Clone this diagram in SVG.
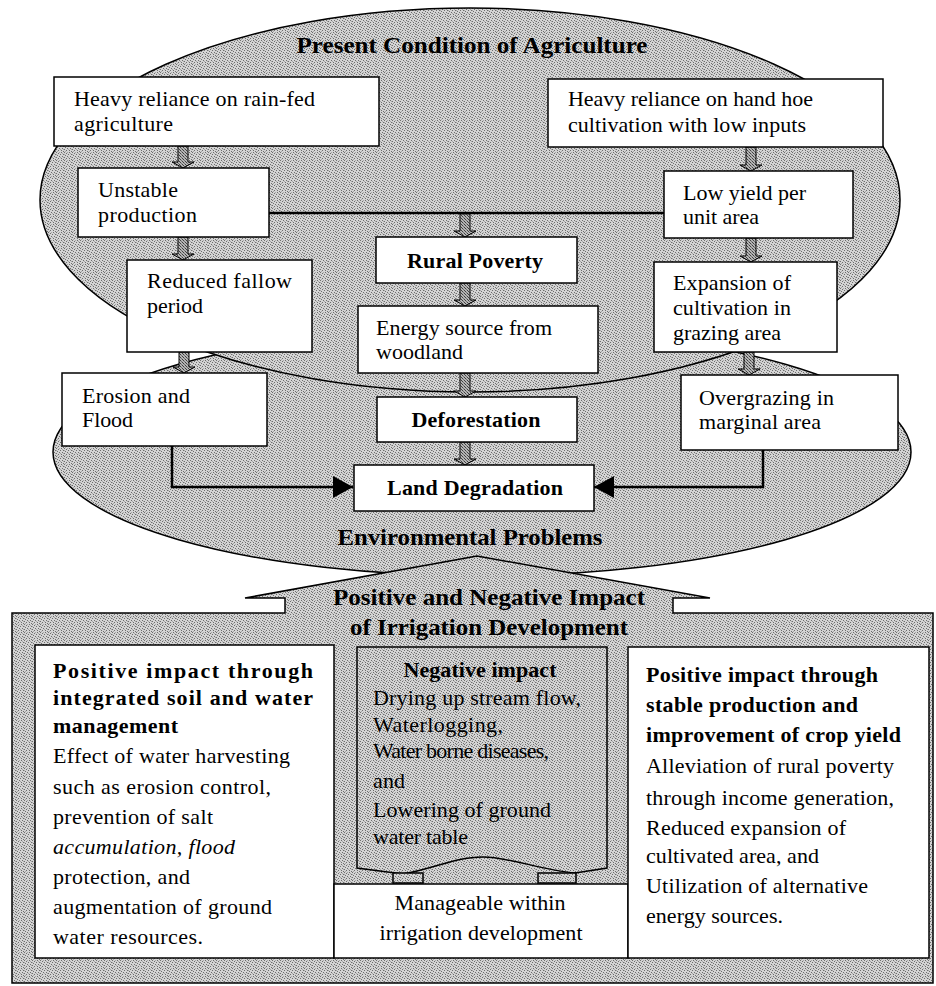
<svg xmlns="http://www.w3.org/2000/svg" width="936" height="986" viewBox="0 0 936 986">
<defs>
<pattern id="dots" width="8" height="8" patternUnits="userSpaceOnUse">
<rect width="8" height="8" fill="#d4d4d4"/>
<g fill="#6e6e6e">
<rect x="0" y="0" width="1" height="1"/>
<rect x="5" y="0" width="1" height="1"/>
<rect x="2" y="1" width="1" height="1"/>
<rect x="7" y="2" width="1" height="1"/>
<rect x="4" y="2" width="1" height="1"/>
<rect x="1" y="3" width="1" height="1"/>
<rect x="6" y="4" width="1" height="1"/>
<rect x="3" y="4" width="1" height="1"/>
<rect x="0" y="5" width="1" height="1"/>
<rect x="5" y="6" width="1" height="1"/>
<rect x="2" y="6" width="1" height="1"/>
<rect x="7" y="7" width="1" height="1"/>
</g>
<g fill="#a6a6a6">
<rect x="3" y="0" width="1" height="1"/>
<rect x="6" y="1" width="1" height="1"/>
<rect x="0" y="2" width="1" height="1"/>
<rect x="4" y="5" width="1" height="1"/>
<rect x="1" y="7" width="1" height="1"/>
<rect x="7" y="5" width="1" height="1"/>
</g>
</pattern>
<pattern id="dark" width="3" height="3" patternUnits="userSpaceOnUse">
<rect width="3" height="3" fill="#b4b4b4"/>
<rect x="0" y="0" width="1" height="1" fill="#404040"/>
<rect x="1" y="1" width="1" height="1" fill="#707070"/>
<rect x="2" y="2" width="1" height="1" fill="#404040"/>
</pattern>
<marker id="tri" viewBox="0 0 20 22" refX="20" refY="11" markerWidth="20" markerHeight="22" markerUnits="userSpaceOnUse" orient="auto">
<path d="M0,0 L20,11 L0,22 Z" fill="#000"/>
</marker>
<style>
.t{font-family:"Liberation Serif","Times New Roman",serif;font-size:22px;fill:#000}
.b{font-weight:bold}
.h{font-family:"Liberation Serif","Times New Roman",serif;font-size:24px;font-weight:bold;fill:#000}
.i{font-style:italic}
.box{fill:#fff;stroke:#000;stroke-width:1.5}
.shade{fill:url(#dots);stroke:#000;stroke-width:1.5}
.barrow{fill:url(#dark);stroke:#000;stroke-width:1}
.conn{fill:none;stroke:#000;stroke-width:2.5}
</style>
</defs>

<g id="background">
<ellipse cx="482" cy="452" rx="429" ry="124" class="shade"/>
<path class="shade" d="M12,613 H285 V598 H245 L477,556 L710,598 H673 V613 H933 V983 H12 Z"/>
<ellipse cx="470" cy="200" rx="430" ry="192" class="shade"/>
<text class="h" x="472" y="53" text-anchor="middle" textLength="351" lengthAdjust="spacingAndGlyphs">Present Condition of Agriculture</text>
<text class="h" x="470" y="545" text-anchor="middle" textLength="265" lengthAdjust="spacingAndGlyphs">Environmental Problems</text>
<text class="h" x="489" y="605" text-anchor="middle" textLength="312" lengthAdjust="spacingAndGlyphs">Positive and Negative Impact</text>
<text class="h" x="489" y="635" text-anchor="middle" textLength="278" lengthAdjust="spacingAndGlyphs">of Irrigation Development</text>
</g>

<g id="connectors">
<path class="conn" d="M269,213 H664" stroke-width="2"/>
<path class="conn" d="M172,446 V487 H353" marker-end="url(#tri)"/>
<path class="conn" d="M763,450 V487 H594" marker-end="url(#tri)"/>
<path class="barrow" d="M178,146 V162 H172 L183,168 L194,162 H188 V146 Z"/>
<path class="barrow" d="M178,237 V254 H172 L183,260 L194,254 H188 V237 Z"/>
<path class="barrow" d="M179,352 V367 H173 L184,373 L195,367 H189 V352 Z"/>
<path class="barrow" d="M746,147 V165 H740 L751,171 L762,165 H756 V147 Z"/>
<path class="barrow" d="M746,238 V256 H740 L751,262 L762,256 H756 V238 Z"/>
<path class="barrow" d="M744,352 V369 H738 L749,375 L760,369 H754 V352 Z"/>
<path class="barrow" d="M460,214 V231 H454 L465,237 L476,231 H470 V214 Z"/>
<path class="barrow" d="M460,283 V300 H454 L465,306 L476,300 H470 V283 Z"/>
<path class="barrow" d="M460,373 V391 H454 L465,397 L476,391 H470 V373 Z"/>
<path class="barrow" d="M460,442 V459 H454 L465,465 L476,459 H470 V442 Z"/>
</g>

<g id="n-rainfed">
<rect class="box" x="54" y="77" width="325" height="69"/>
<text class="t" x="74" y="106" textLength="241">Heavy reliance on rain-fed</text>
<text class="t" x="74" y="131" textLength="99">agriculture</text>
</g>
<g id="n-handhoe">
<rect class="box" x="548" y="79" width="335" height="68"/>
<text class="t" x="568" y="106" textLength="245">Heavy reliance on hand hoe</text>
<text class="t" x="568" y="132" textLength="238">cultivation with low inputs</text>
</g>
<g id="n-unstable">
<rect class="box" x="78" y="168" width="191" height="69"/>
<text class="t" x="98" y="197" textLength="80">Unstable</text>
<text class="t" x="98" y="222" textLength="99">production</text>
</g>
<g id="n-lowyield">
<rect class="box" x="664" y="171" width="189" height="67"/>
<text class="t" x="683" y="200" textLength="123">Low yield per</text>
<text class="t" x="683" y="224" textLength="76">unit area</text>
</g>
<g id="n-fallow">
<rect class="box" x="127" y="260" width="185" height="92"/>
<text class="t" x="147" y="288" textLength="145">Reduced fallow</text>
<text class="t" x="147" y="313" textLength="56">period</text>
</g>
<g id="n-poverty">
<rect class="box" x="376" y="237" width="201" height="46"/>
<text class="t b" x="475" y="268" text-anchor="middle" textLength="136">Rural Poverty</text>
</g>
<g id="n-expansion">
<rect class="box" x="654" y="262" width="183" height="90"/>
<text class="t" x="673" y="290" textLength="118">Expansion of</text>
<text class="t" x="673" y="315" textLength="118">cultivation in</text>
<text class="t" x="673" y="340" textLength="108">grazing area</text>
</g>
<g id="n-energy">
<rect class="box" x="358" y="306" width="240" height="67"/>
<text class="t" x="376" y="335" textLength="176">Energy source from</text>
<text class="t" x="376" y="359" textLength="87">woodland</text>
</g>
<g id="n-erosion">
<rect class="box" x="62" y="373" width="205" height="73"/>
<text class="t" x="82" y="403" textLength="108">Erosion and</text>
<text class="t" x="82" y="427" textLength="51">Flood</text>
</g>
<g id="n-deforestation">
<rect class="box" x="377" y="397" width="200" height="45"/>
<text class="t b" x="476" y="427" text-anchor="middle" textLength="129">Deforestation</text>
</g>
<g id="n-overgrazing">
<rect class="box" x="681" y="375" width="217" height="75"/>
<text class="t" x="699" y="405" textLength="135">Overgrazing in</text>
<text class="t" x="699" y="429" textLength="122">marginal area</text>
</g>
<g id="n-landdeg">
<rect class="box" x="354" y="465" width="240" height="46"/>
<text class="t b" x="475" y="495" text-anchor="middle" textLength="176">Land Degradation</text>
</g>

<g id="n-positive-left">
<rect class="box" x="35" y="645" width="299" height="313"/>
<text class="t b" x="53" y="678" textLength="260">Positive impact through</text>
<text class="t b" x="53" y="705" textLength="260">integrated soil and water</text>
<text class="t b" x="53" y="733" textLength="125">management</text>
<text class="t" x="53" y="763" textLength="237">Effect of water harvesting</text>
<text class="t" x="53" y="794" textLength="218">such as erosion control,</text>
<text class="t" x="53" y="824" textLength="160">prevention of salt</text>
<text class="t i" x="53" y="854" textLength="182">accumulation, flood</text>
<text class="t" x="53" y="884" textLength="137">protection, and</text>
<text class="t" x="53" y="914" textLength="219">augmentation of ground</text>
<text class="t" x="53" y="944" textLength="150">water resources.</text>
</g>
<g id="n-negative">
<path class="shade" d="M357,647 H607 V868 L575,873 C540,870 510,857 483,857 C455,857 430,870 403,874 L357,868 Z"/>
<rect class="shade" x="393" y="873" width="30" height="10" stroke-width="1"/>
<rect class="shade" x="538" y="873" width="38" height="10" stroke-width="1"/>
<text class="t b" x="480" y="677" text-anchor="middle" textLength="153">Negative impact</text>
<text class="t" x="373" y="705" textLength="208">Drying up stream flow,</text>
<text class="t" x="373" y="732" textLength="130">Waterlogging,</text>
<text class="t" x="373" y="758" textLength="176">Water borne diseases,</text>
<text class="t" x="373" y="788" textLength="32">and</text>
<text class="t" x="373" y="817" textLength="178">Lowering of ground</text>
<text class="t" x="373" y="844" textLength="95">water table</text>
</g>
<g id="n-manageable">
<rect class="box" x="334" y="884" width="294" height="74"/>
<text class="t" x="480" y="910" text-anchor="middle" textLength="171">Manageable within</text>
<text class="t" x="481" y="940" text-anchor="middle" textLength="203">irrigation development</text>
</g>
<g id="n-positive-right">
<rect class="box" x="628" y="647" width="301" height="311"/>
<text class="t b" x="646" y="682" textLength="232">Positive impact through</text>
<text class="t b" x="646" y="712" textLength="212">stable production and</text>
<text class="t b" x="646" y="742" textLength="255">improvement of crop yield</text>
<text class="t" x="646" y="773" textLength="248">Alleviation of rural poverty</text>
<text class="t" x="646" y="805" textLength="248">through income generation,</text>
<text class="t" x="646" y="835" textLength="200">Reduced expansion of</text>
<text class="t" x="646" y="863" textLength="173">cultivated area, and</text>
<text class="t" x="646" y="893" textLength="222">Utilization of alternative</text>
<text class="t" x="646" y="923" textLength="137">energy sources.</text>
</g>
</svg>
